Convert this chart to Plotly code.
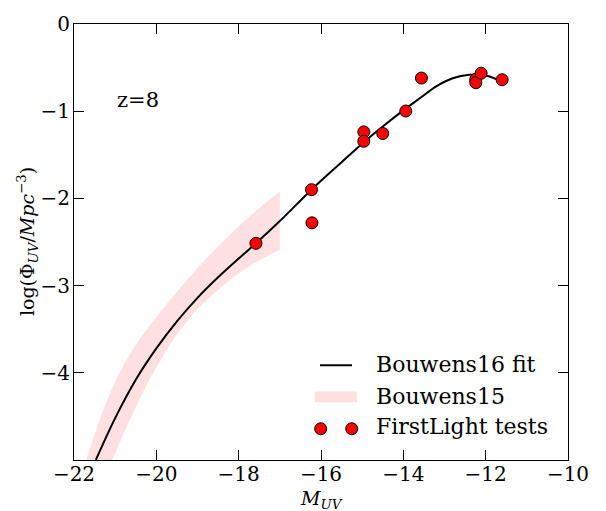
import plotly.graph_objects as go

# ---- data ----
fit_x = [-21.47, -21.0, -20.5, -20.0, -19.5, -19.0, -18.5, -18.0, -17.58, -17.0,
         -16.23, -15.5, -14.96, -14.5, -14.0, -13.6, -13.2, -12.8, -12.4, -12.0, -11.49]
fit_y = [-5.0, -4.52, -4.08, -3.72, -3.41, -3.14, -2.905, -2.69, -2.515, -2.26,
         -1.90, -1.585, -1.355, -1.175, -0.99, -0.852, -0.715, -0.622, -0.582, -0.59, -0.684]

b15_upper_x = [-21.70, -21.35, -20.95, -20.5, -20.0, -19.5, -19.0, -18.5, -18.0, -17.5, -17.0]
b15_upper_y = [-5.0, -4.5, -4.05, -3.68, -3.36, -3.07, -2.80, -2.55, -2.32, -2.11, -1.917]
b15_lower_x = [-21.07, -20.7, -20.3, -19.9, -19.5, -19.0, -18.5, -18.0, -17.5, -17.0]
b15_lower_y = [-5.0, -4.6, -4.2, -3.86, -3.56, -3.27, -3.05, -2.86, -2.71, -2.59]

fl_x = [-17.58, -16.23, -16.22, -14.96, -14.96, -14.50, -13.94, -13.56, -12.24, -12.24, -12.11, -11.60]
fl_y = [-2.515, -1.90, -2.28, -1.237, -1.345, -1.256, -0.998, -0.62, -0.635, -0.673, -0.564, -0.639]

x_ticks = [-22, -20, -18, -16, -14, -12, -10]
y_ticks = [-4, -3, -2, -1, 0]

FONT = "DejaVu Serif"

fig = go.Figure()

# Bouwens15 band: smooth lower and upper edges, filled between (sharp end cuts)
fig.add_trace(go.Scatter(x=b15_lower_x, y=b15_lower_y, mode="lines",
                         line=dict(width=0, shape="spline", smoothing=0.8),
                         hoverinfo="skip", showlegend=False))
fig.add_trace(go.Scatter(x=b15_upper_x, y=b15_upper_y, mode="lines", fill="tonexty",
                         fillcolor="rgba(255,0,0,0.12)",
                         line=dict(width=0, shape="spline", smoothing=0.8),
                         hoverinfo="skip", showlegend=False))
fig.add_trace(go.Scatter(x=fit_x, y=fit_y, mode="lines",
                         line=dict(color="black", width=2, shape="spline", smoothing=1.0),
                         showlegend=False))
fig.add_trace(go.Scatter(x=fl_x, y=fl_y, mode="markers",
                         marker=dict(color="red", size=12, line=dict(color="black", width=1)),
                         showlegend=False))

axis_common = dict(showline=True, linecolor="black", linewidth=1, mirror="ticks",
                   ticks="inside", ticklen=10, tickwidth=1, tickcolor="black",
                   showgrid=False, zeroline=False,
                   tickfont=dict(family=FONT, size=20, color="black"))

fig.update_xaxes(range=[-22, -10], tickvals=x_ticks,
                 ticktext=["\u2212" + str(abs(v)) for v in x_ticks],
                 ticklabelstandoff=-4, **axis_common)
fig.update_yaxes(range=[-5, 0], tickvals=y_ticks,
                 ticktext=[("\u2212" + str(abs(v))) if v < 0 else str(v) for v in y_ticks],
                 ticklabelstandoff=-1, **axis_common)

annotations = [
    dict(text="z=8", x=-21.0, y=-0.87, xref="x", yref="y", xanchor="left", yanchor="middle",
         showarrow=False, font=dict(family=FONT, size=21, color="black")),
    dict(text="log(\u03a6<sub><i>UV</i></sub>/<i>Mpc</i><sup>\u22123</sup>)",
         x=-0.095, y=0.5, xref="paper", yref="paper", textangle=-90,
         xanchor="center", yanchor="middle", showarrow=False,
         font=dict(family=FONT, size=19, color="black")),
    dict(text="<i>M</i><sub><i>UV</i></sub>", x=0.5, y=-0.09, xref="paper", yref="paper",
         xanchor="center", yanchor="middle", showarrow=False,
         font=dict(family=FONT, size=19, color="black")),
]

# manual legend (matplotlib style, no frame)
leg_text_x = 0.607
leg_items = [("Bouwens16 fit", 0.2195), ("Bouwens15", 0.1466), ("FirstLight tests", 0.076)]
for txt, yy in leg_items:
    annotations.append(dict(text=txt, x=leg_text_x, y=yy, xref="paper", yref="paper",
                            xanchor="left", yanchor="middle", showarrow=False,
                            font=dict(family=FONT, size=22, color="black")))

shapes = [
    dict(type="line", xref="paper", yref="paper", x0=0.498, x1=0.5628, y0=0.2175, y1=0.2175,
         line=dict(color="black", width=2)),
    dict(type="rect", xref="paper", yref="paper", x0=0.4879, x1=0.5729, y0=0.1323, y1=0.157,
         fillcolor="rgba(255,0,0,0.12)", line=dict(width=0)),
]
for cx in (0.4994, 0.5621):
    shapes.append(dict(type="circle", xref="paper", yref="paper",
                       xsizemode="pixel", ysizemode="pixel", xanchor=cx, yanchor=0.0717,
                       x0=-6, x1=6, y0=-6, y1=6, fillcolor="red",
                       line=dict(color="black", width=1)))

fig.update_layout(width=606, height=511, margin=dict(l=74, r=38, t=14, b=51),
                  paper_bgcolor="white", plot_bgcolor="white",
                  annotations=annotations, shapes=shapes, showlegend=False)

fig.write_html("out.html")
